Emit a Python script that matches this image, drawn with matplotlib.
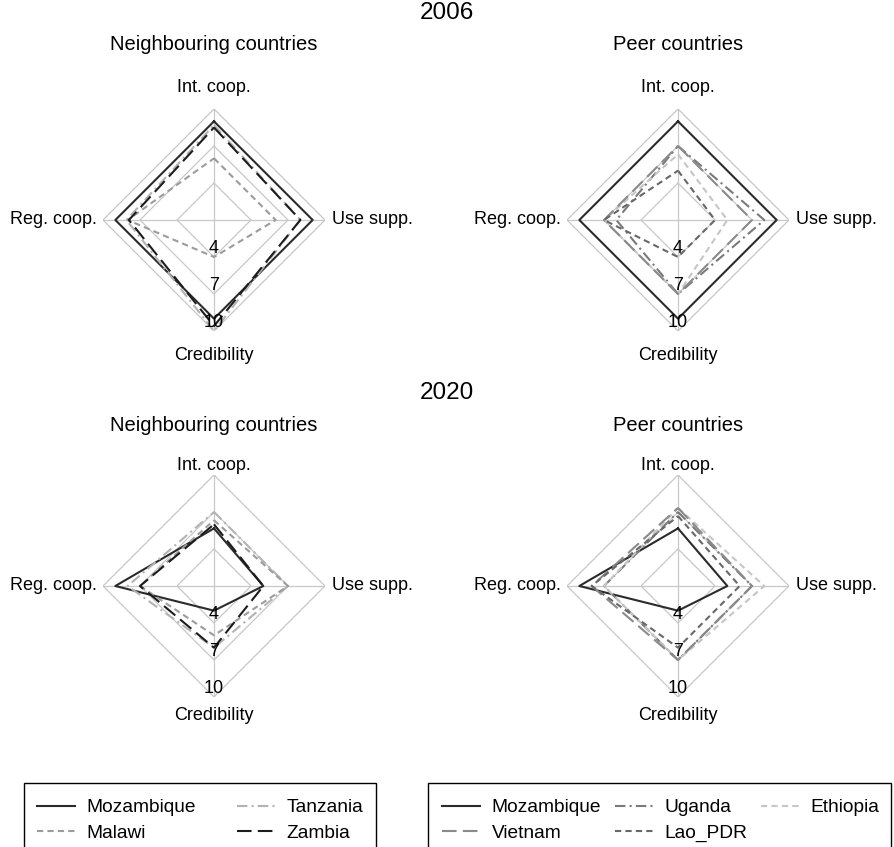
import numpy as np
import matplotlib
matplotlib.use("Agg")
import matplotlib.pyplot as plt
from matplotlib.lines import Line2D
from matplotlib.patches import Rectangle

plt.rcParams['font.family'] = ['Liberation Sans', 'DejaVu Sans']

# axes of the radar, clockwise from the top
spokes = ["Int. coop.", "Use supp.", "Credibility", "Reg. coop."]
ring_values = [4, 7, 10]

# 2006, neighbouring countries
moz_2006 = [9.0, 9.0, 9.0, 9.0]
tza_2006 = [8.7, 8.0, 10.0, 8.1]
mwi_2006 = [6.0, 6.0, 4.0, 8.0]
zmb_2006 = [8.5, 8.0, 9.6, 7.9]
# 2006, peer countries
uga_2006 = [7.0, 8.0, 7.0, 6.0]
vnm_2006 = [7.0, 7.0, 7.0, 7.0]
lao_2006 = [5.0, 4.0, 4.0, 7.0]
eth_2006 = [6.33, 5.0, 7.0, 7.0]

# 2020, neighbouring countries
moz_2020 = [5.67, 5.0, 3.0, 9.0]
tza_2020 = [7.0, 7.0, 6.0, 8.0]
mwi_2020 = [6.33, 7.0, 5.0, 7.0]
zmb_2020 = [6.0, 5.0, 6.0, 7.0]
# 2020, peer countries
uga_2020 = [7.0, 7.0, 7.0, 7.0]
vnm_2020 = [7.33, 7.0, 7.0, 8.0]
lao_2020 = [6.67, 6.0, 6.0, 8.0]
eth_2020 = [7.33, 8.0, 7.0, 7.0]

# line styles per country
styles = {
    "Mozambique": dict(color="#2b2b2b", ls="-", lw=1.5),
    "Tanzania": dict(color="#b3b3b3", dashes=(5, 2, 1, 2), lw=1.5),
    "Malawi": dict(color="#9c9c9c", dashes=(3, 2), lw=1.5),
    "Zambia": dict(color="#1c1c1c", dashes=(7, 3), lw=1.5),
    "Uganda": dict(color="#7a7a7a", dashes=(5, 2, 1, 2), lw=1.5),
    "Ethiopia": dict(color="#c6c6c6", dashes=(3, 2), lw=1.5),
    "Vietnam": dict(color="#8a8a8a", dashes=(7, 3), lw=1.5),
    "Lao_PDR": dict(color="#686868", dashes=(3, 2), lw=1.5),
}

W, H = 894, 847
R = 111  # px radius of outer ring
theta = np.radians([90, 0, -90, 180])

fig = plt.figure(figsize=(W / 100, H / 100), dpi=100)


def radar(cx, cy, series, top_off, bot_off):
    ax = fig.add_axes([(cx - R) / W, 1 - (cy + R) / H, 2 * R / W, 2 * R / H])
    ax.set_xlim(-9, 9)
    ax.set_ylim(-9, 9)
    ax.axis('off')
    u = R / 9.0
    # grid
    for v in ring_values:
        r = v - 1
        ax.plot(np.append(r * np.cos(theta), r * np.cos(theta[0])),
                np.append(r * np.sin(theta), r * np.sin(theta[0])),
                color="#c8c8c8", lw=0.9, zorder=1)
    for t in theta:
        ax.plot([0, 9 * np.cos(t)], [0, 9 * np.sin(t)], color="#c8c8c8", lw=0.9, zorder=1)
    # data
    for name, vals in series:
        r = np.array(vals) - 1
        x = np.append(r * np.cos(theta), r[0] * np.cos(theta[0]))
        y = np.append(r * np.sin(theta), r[0] * np.sin(theta[0]))
        ax.plot(x, y, zorder=3, **styles[name])
    for v in ring_values:
        ax.text(0, -(v - 1), str(v), ha='center', va='bottom', fontsize=13, zorder=4)
    ax.text(0, top_off / u, spokes[0], ha='center', va='center', fontsize=13)
    ax.text(118 / u, 0, spokes[1], ha='left', va='center', fontsize=13)
    ax.text(0, -bot_off / u, spokes[2], ha='center', va='center', fontsize=13)
    ax.text(-117 / u, 0, spokes[3], ha='right', va='center', fontsize=13)
    return ax


radar(214, 220, [("Mozambique", moz_2006), ("Tanzania", tza_2006),
                 ("Malawi", mwi_2006), ("Zambia", zmb_2006)], 132, 136)
radar(678, 220, [("Mozambique", moz_2006), ("Uganda", uga_2006), ("Ethiopia", eth_2006),
                 ("Vietnam", vnm_2006), ("Lao_PDR", lao_2006)], 132, 136)
radar(214, 586, [("Mozambique", moz_2020), ("Tanzania", tza_2020),
                 ("Malawi", mwi_2020), ("Zambia", zmb_2020)], 121, 130)
radar(678, 586, [("Mozambique", moz_2020), ("Uganda", uga_2020), ("Ethiopia", eth_2020),
                 ("Vietnam", vnm_2020), ("Lao_PDR", lao_2020)], 121, 130)

# titles
fig.text(447 / W, 1 - 13 / H, "2006", ha='center', va='center', fontsize=17.5)
fig.text(214 / W, 1 - 45 / H, "Neighbouring countries", ha='center', va='center', fontsize=14.5)
fig.text(678 / W, 1 - 45 / H, "Peer countries", ha='center', va='center', fontsize=14.5)
fig.text(447 / W, 1 - 393 / H, "2020", ha='center', va='center', fontsize=17.5)
fig.text(214 / W, 1 - 425 / H, "Neighbouring countries", ha='center', va='center', fontsize=14.5)
fig.text(678 / W, 1 - 425 / H, "Peer countries", ha='center', va='center', fontsize=14.5)


def handle(name):
    return Line2D([], [], **styles[name])


left_names = ["Mozambique", "Malawi", "Tanzania", "Zambia"]
right_names = ["Mozambique", "Vietnam", "Uganda", "Lao_PDR", "Ethiopia"]

# legend frames (run off the bottom of the picture)
box_top = 783
fig.patches.append(Rectangle((24 / W, -0.05), 352 / W, 1 - box_top / H + 0.05,
                             transform=fig.transFigure, fill=False, ec='black', lw=1.0))
fig.patches.append(Rectangle((428 / W, -0.05), 463 / W, 1 - box_top / H + 0.05,
                             transform=fig.transFigure, fill=False, ec='black', lw=1.0))

leg_kw = dict(loc='upper left', fontsize=13.8, frameon=False, handlelength=2.0,
              handletextpad=0.6, labelspacing=0.4, borderpad=0, borderaxespad=0)
fig.legend([handle(n) for n in left_names], left_names, ncol=2, columnspacing=2.1,
           bbox_to_anchor=(37 / W, 1 - 799 / H), **leg_kw)
fig.legend([handle(n) for n in right_names], right_names, ncol=3, columnspacing=0.7,
           bbox_to_anchor=(442 / W, 1 - 799 / H), **leg_kw)

fig.savefig("out.png", dpi=100)
